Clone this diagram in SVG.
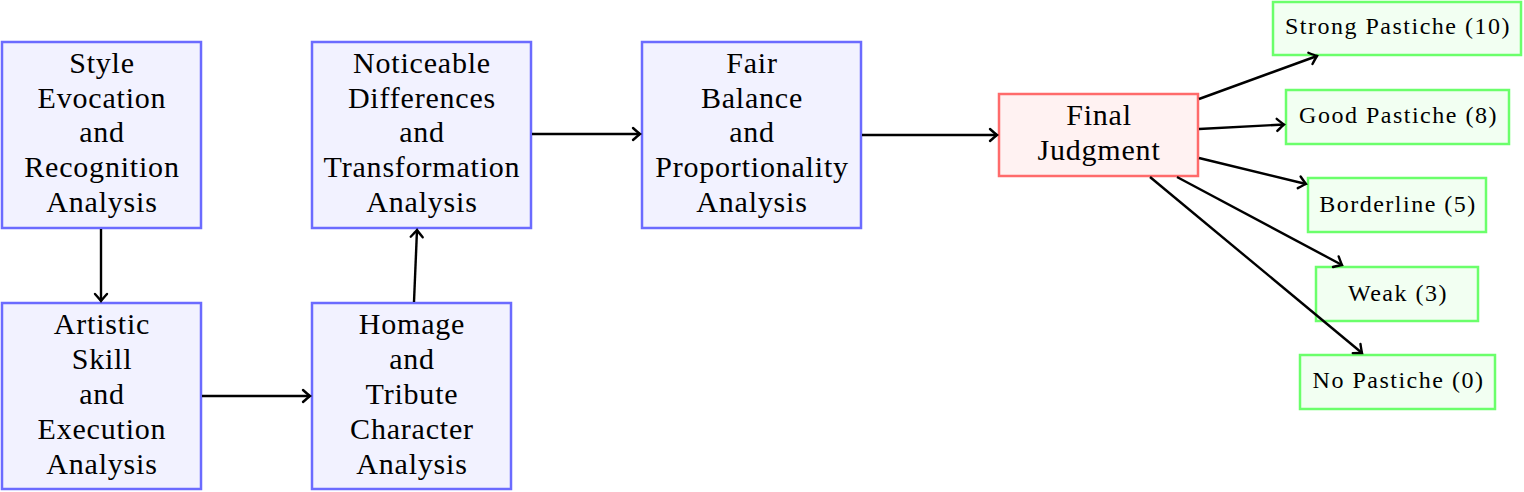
<svg xmlns="http://www.w3.org/2000/svg" width="1524" height="492" viewBox="0 0 1524 492">
<style>
.blue{fill:#f2f2ff;stroke:#6b6bff;stroke-width:2.5}
.red{fill:#fff2f2;stroke:#ff6b6b;stroke-width:2.5}
.green{fill:#f2fff2;stroke:#6bff6b;stroke-width:2.5}
text{font-family:"Liberation Serif","Times New Roman",serif;fill:#000;text-anchor:middle;dominant-baseline:central}
.big{font-size:30px;letter-spacing:0.8px}
.small{font-size:24px;letter-spacing:1.5px}
.conn line{stroke:#000;stroke-width:2.4;fill:none;marker-end:url(#arr)}
</style>
<defs>
<marker id="arr" markerUnits="userSpaceOnUse" markerWidth="20" markerHeight="20" refX="10" refY="10" orient="auto" overflow="visible">
<path d="M3,4 Q8,8.5 10,10 Q8,11.5 3,16" fill="none" stroke="#000" stroke-width="2.4" stroke-linecap="round"/>
</marker>
</defs>
<g id="n1">
<rect class="blue" x="2" y="42" width="199" height="186"/>
<text class="big" x="102" y="62.5">Style</text>
<text class="big" x="102" y="97.5">Evocation</text>
<text class="big" x="102" y="131.5">and</text>
<text class="big" x="102" y="166.5">Recognition</text>
<text class="big" x="102" y="201.5">Analysis</text>
</g>
<g id="n2">
<rect class="blue" x="2" y="303" width="199" height="186"/>
<text class="big" x="102" y="323.5">Artistic</text>
<text class="big" x="102" y="358.5">Skill</text>
<text class="big" x="102" y="393.5">and</text>
<text class="big" x="102" y="428.5">Execution</text>
<text class="big" x="102" y="463.5">Analysis</text>
</g>
<g id="n3">
<rect class="blue" x="312" y="303" width="199" height="186"/>
<text class="big" x="412" y="323.5">Homage</text>
<text class="big" x="412" y="358.5">and</text>
<text class="big" x="412" y="393.5">Tribute</text>
<text class="big" x="412" y="428.5">Character</text>
<text class="big" x="412" y="463.5">Analysis</text>
</g>
<g id="n4">
<rect class="blue" x="312" y="42" width="219" height="186"/>
<text class="big" x="422" y="62.5">Noticeable</text>
<text class="big" x="422" y="97.5">Differences</text>
<text class="big" x="422" y="131.5">and</text>
<text class="big" x="422" y="166.5">Transformation</text>
<text class="big" x="422" y="201.5">Analysis</text>
</g>
<g id="n5">
<rect class="blue" x="642" y="42" width="219" height="186"/>
<text class="big" x="752" y="62.5">Fair</text>
<text class="big" x="752" y="97.5">Balance</text>
<text class="big" x="752" y="131.5">and</text>
<text class="big" x="752" y="166.5">Proportionality</text>
<text class="big" x="752" y="201.5">Analysis</text>
</g>
<g id="n6">
<rect class="red" x="999" y="94" width="199" height="82"/>
<text class="big" x="1099" y="114.5">Final</text>
<text class="big" x="1099" y="149.5">Judgment</text>
</g>
<g id="n7">
<rect class="green" x="1273" y="2" width="248" height="53"/>
<text class="small" x="1398" y="26">Strong Pastiche (10)</text>
</g>
<g id="n8">
<rect class="green" x="1286" y="90" width="223" height="54"/>
<text class="small" x="1398.5" y="115">Good Pastiche (8)</text>
</g>
<g id="n9">
<rect class="green" x="1308" y="178" width="178" height="54"/>
<text class="small" x="1398" y="204">Borderline (5)</text>
</g>
<g id="n10">
<rect class="green" x="1316" y="267" width="162" height="54"/>
<text class="small" x="1398" y="293">Weak (3)</text>
</g>
<g id="n11">
<rect class="green" x="1300" y="355" width="195" height="54"/>
<text class="small" x="1398.5" y="380">No Pastiche (0)</text>
</g>
<g id="connectors" class="conn">
<line x1="101" y1="229" x2="101" y2="301"/>
<line x1="202" y1="396" x2="310" y2="396"/>
<line x1="414" y1="302" x2="417" y2="230"/>
<line x1="532" y1="134" x2="640" y2="134"/>
<line x1="862" y1="135" x2="997" y2="135"/>
<line x1="1199" y1="99" x2="1317" y2="56"/>
<line x1="1199" y1="129" x2="1284" y2="124.5"/>
<line x1="1199" y1="158" x2="1306" y2="184"/>
<line x1="1177" y1="177" x2="1342" y2="265"/>
<line x1="1150" y1="177" x2="1362" y2="353"/>
</g>
</svg>
